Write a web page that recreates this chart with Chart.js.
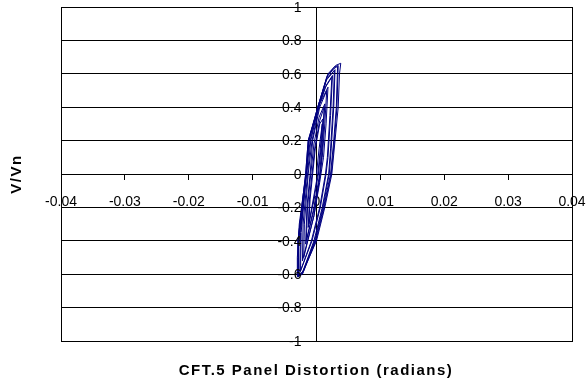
<!DOCTYPE html>
<html>
<head>
<meta charset="utf-8">
<script src="https://cdn.jsdelivr.net/npm/chart.js@4/dist/chart.umd.min.js"></script>
<style>
  html,body{margin:0;padding:0;background:#fff;}
  #wrap{width:586px;height:385px;}
</style>
</head>
<body>
<div id="wrap"><canvas id="c" width="586" height="385"></canvas></div>
<script>
// panel distortion (radians) and V/Vn, cycle by cycle
const panelRot = [
  0, 0.0004, 0.0009, 0.0006, 0.0002, -0.0005, -0.0012, -0.0010, -0.0006,
  -0.0002, 0.0005, 0.0010, 0.0007, 0.0003, -0.0004, -0.0013, -0.0011, -0.0007,
  -0.0003, 0.0005, 0.0012, 0.0009, 0.0005, -0.0004, -0.0016, -0.0014, -0.0009,
  -0.0004, 0.0004, 0.0013, 0.0010, 0.0006, -0.0003, -0.0017, -0.0015, -0.0010,
  -0.0006, 0.0005, 0.0016, 0.0013, 0.0009, 0.0004, -0.0004, -0.0020, -0.0019, -0.0013,
  -0.0007, 0.0005, 0.0018, 0.0015, 0.0011, 0.0005, -0.0004, -0.0022, -0.0021, -0.0014,
  -0.0009, 0.0003, 0.0014, 0.0024, 0.0021, 0.0017, 0.0014, 0.0005, -0.0008, -0.0025, -0.0024, -0.0016,
  -0.0010, 0.0003, 0.0015, 0.0025, 0.0022, 0.0018, 0.0015, 0.0006, -0.0007, -0.0026, -0.0025, -0.0016,
  -0.0012, 0.0002, 0.0015, 0.0028, 0.0026, 0.0022, 0.0019, 0.0009, -0.0004, -0.0021, -0.0028, -0.0028, -0.0021, -0.0016,
  -0.0012, 0.0003, 0.0016, 0.0029, 0.0027, 0.0023, 0.0020, 0.0010, -0.0003, -0.0021, -0.0028, -0.0028, -0.0022, -0.0016,
  -0.0012, 0.0002, 0.0016, 0.0027, 0.0033, 0.0031, 0.0027, 0.0022, 0.0011, -0.0002, -0.0022, -0.0029, -0.0029, -0.0023, -0.0017,
  -0.0013, 0.0002, 0.0017, 0.0028, 0.0034, 0.0032, 0.0028, 0.0023, 0.0012, -0.0001, -0.0022, -0.0029, -0.0029, -0.0023, -0.0017,
  -0.0013, 0.0003, 0.0018, 0.0030, 0.0038, 0.0036, 0.0034, 0.0029, 0.0024, 0.0013, 0.0000, -0.0023, -0.0029, -0.0030, -0.0027, -0.0020, -0.0014
];
const shearRatio = [
  0, 0.15, 0.30, 0.15, 0, -0.15, -0.30, -0.15, 0,
  0.15, 0.30, 0.33, 0.15, 0, -0.15, -0.32, -0.15, 0,
  0.15, 0.32, 0.40, 0.20, 0, -0.20, -0.40, -0.20, 0,
  0.18, 0.34, 0.42, 0.20, 0, -0.20, -0.42, -0.20, 0,
  0.20, 0.40, 0.50, 0.30, 0.10, -0.05, -0.25, -0.50, -0.30, 0,
  0.20, 0.42, 0.52, 0.30, 0.10, -0.05, -0.25, -0.52, -0.30, 0,
  0.20, 0.40, 0.52, 0.58, 0.35, 0.10, 0, -0.20, -0.40, -0.58, -0.35, 0,
  0.20, 0.40, 0.53, 0.59, 0.35, 0.10, 0, -0.20, -0.40, -0.59, -0.35, 0,
  0.20, 0.40, 0.56, 0.62, 0.40, 0.15, 0, -0.20, -0.40, -0.58, -0.61, -0.40, -0.20, 0,
  0.20, 0.40, 0.57, 0.625, 0.40, 0.15, 0, -0.20, -0.40, -0.59, -0.61, -0.40, -0.20, 0,
  0.20, 0.40, 0.58, 0.63, 0.645, 0.40, 0.20, 0, -0.20, -0.40, -0.59, -0.615, -0.40, -0.20, 0,
  0.20, 0.40, 0.59, 0.64, 0.65, 0.40, 0.20, 0, -0.20, -0.40, -0.60, -0.615, -0.40, -0.20, 0,
  0.20, 0.40, 0.60, 0.65, 0.663, 0.60, 0.40, 0.20, 0, -0.20, -0.40, -0.60, -0.615, -0.50, -0.30, -0.10, 0.05
];
const xTitle = 'CFT.5 Panel Distortion (radians)';
const yTitle = 'V/Vn';

const pts = panelRot.map((x,i)=>({x, y: shearRatio[i]}));
const fmt = (d)=> (v)=> { const s = Number(v).toFixed(d); return String(Number(s)); };
const tickFont = '14px "Liberation Sans", Arial, sans-serif';

const frame = {
  id: 'frame',
  afterDraw(chart){
    const {ctx, chartArea:a, scales} = chart;
    ctx.save();
    ctx.strokeStyle = '#000'; ctx.lineWidth = 1;
    ctx.strokeRect(Math.round(a.left)+0.5, Math.round(a.top)+0.5, Math.round(a.right-a.left), Math.round(a.bottom-a.top));
    // y tick labels, left of the centre axis
    ctx.fillStyle = '#000';
    ctx.font = tickFont;
    ctx.textAlign = 'right'; ctx.textBaseline = 'middle';
    const x0 = scales.x.getPixelForValue(0);
    scales.y.ticks.forEach(t=>{
      ctx.fillText(fmt(1)(t.value), x0 - 15, scales.y.getPixelForValue(t.value) + 1);
    });
    // axis titles
    ctx.font = 'bold 15px "Liberation Sans", Arial, sans-serif';
    ctx.letterSpacing = '1.5px';
    ctx.textAlign = 'center';
    ctx.fillText(xTitle, 316, 371);
    ctx.translate(17, 174); ctx.rotate(-Math.PI/2);
    ctx.fillText(yTitle, 0, 0);
    ctx.restore();
  }
};

const noPad = (s)=>{ s.paddingLeft = 0; s.paddingRight = 0; s.paddingTop = 0; s.paddingBottom = 0; };

new Chart(document.getElementById('c'), {
  type: 'scatter',
  data: { datasets: [{ data: pts, showLine: true, borderColor: '#000080', borderWidth: 1, pointRadius: 0, tension: 0, fill: false }]},
  options: {
    responsive: false, animation: false,
    layout: { padding: { left: 61, right: 14, top: 7, bottom: 44 } },
    plugins: { legend: { display: false }, tooltip: { enabled: false } },
    scales: {
      x: {
        type: 'linear', min: -0.04, max: 0.04, position: { y: 0 }, afterFit: noPad,
        ticks: { stepSize: 0.01, color: '#000', font: { family: '"Liberation Sans", Arial', size: 14 }, padding: 15, maxRotation: 0, callback: fmt(2) },
        grid: { drawOnChartArea: false, drawTicks: true, tickLength: 5, color: '#000' },
        border: { display: true, color: '#000', width: 1 }
      },
      y: {
        type: 'linear', min: -1, max: 1, position: { x: 0 }, afterFit: noPad,
        ticks: { stepSize: 0.2, color: 'rgba(0,0,0,0)', font: { family: '"Liberation Sans", Arial', size: 14 }, callback: fmt(1) },
        grid: { drawOnChartArea: true, drawTicks: true, tickLength: 4, color: '#000', lineWidth: 1 },
        border: { display: true, color: '#000', width: 1 }
      }
    }
  },
  plugins: [frame]
});
</script>
</body>
</html>
